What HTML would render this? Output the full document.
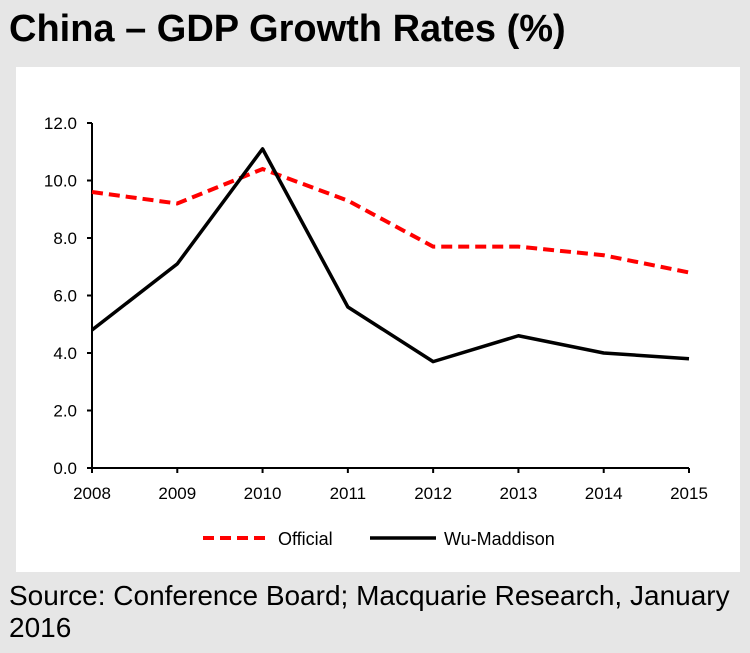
<!DOCTYPE html>
<html><head><meta charset="utf-8"><style>
body{margin:0;width:750px;height:653px;background:#e6e6e6;font-family:"Liberation Sans",Arial,sans-serif;overflow:hidden;position:relative}
#title{position:absolute;left:9px;top:8px;font-size:38px;font-weight:bold;color:#000;margin:0;white-space:nowrap}
#panel{position:absolute;left:16px;top:67px;width:724px;height:505px;background:#fff}
#source{position:absolute;left:9px;top:580px;font-size:28px;line-height:32px;color:#000;width:735px}
</style></head><body>
<h1 id="title">China – GDP Growth Rates (%)</h1>
<div id="panel"></div>
<svg id="chart" width="750" height="653" style="position:absolute;left:0;top:0"></svg>
<div id="source">Source: Conference Board; Macquarie Research, January 2016</div>
<script>
const categories=["2008","2009","2010","2011","2012","2013","2014","2015"];
const officialValues=[9.6,9.2,10.4,9.3,7.7,7.7,7.4,6.8];
const wuMaddisonValues=[4.8,7.1,11.1,5.6,3.7,4.6,4.0,3.8];
const yTicks=[0,2,4,6,8,10,12];
const NS="http://www.w3.org/2000/svg";
const svg=document.getElementById('chart');
const x0=92,x1=689,y0=468,y1=123,yMax=12;
function xs(i){return x0+(x1-x0)*i/(categories.length-1);}
function ys(v){return y0-(y0-y1)*v/yMax;}
function mk(t,a){const e=document.createElementNS(NS,t);for(const k in a)e.setAttribute(k,a[k]);svg.appendChild(e);return e;}
let e=mk('line',{x1:x0,y1:y0,x2:x0,y2:y1,stroke:'#000','stroke-width':2});

e=mk('line',{x1:x0,y1:y0,x2:x1,y2:y0,stroke:'#000','stroke-width':2});

yTicks.forEach(v=>{
 let t=mk('line',{x1:x0-5,y1:ys(v),x2:x0,y2:ys(v),stroke:'#000','stroke-width':2});
 
 let l=mk('text',{x:x0-15,y:ys(v)+6,'text-anchor':'end','font-size':17,'font-family':'Liberation Sans,sans-serif'});
 l.textContent=v.toFixed(1);
 
});
categories.forEach((c,i)=>{
 let t=mk('line',{x1:xs(i),y1:y0,x2:xs(i),y2:y0+5,stroke:'#000','stroke-width':2});
 
 let l=mk('text',{x:xs(i),y:y0+31,'text-anchor':'middle','font-size':17,'font-family':'Liberation Sans,sans-serif'});
 l.textContent=c;
 
});
function pts(vals){return vals.map((v,i)=>xs(i)+','+ys(v)).join(' ');}
e=mk('polyline',{points:pts(officialValues),fill:'none',stroke:'#ff0000','stroke-width':4,'stroke-dasharray':'11,6'});

e=mk('polyline',{points:pts(wuMaddisonValues),fill:'none',stroke:'#000','stroke-width':3.5,'stroke-linejoin':'round'});

e=mk('line',{x1:203,y1:538,x2:270,y2:538,stroke:'#ff0000','stroke-width':4,'stroke-dasharray':'11,6'});

e=mk('text',{x:278,y:545,'font-size':18,'font-family':'Liberation Sans,sans-serif'});e.textContent='Official';

e=mk('line',{x1:370,y1:538,x2:436,y2:538,stroke:'#000','stroke-width':3.5});

e=mk('text',{x:444,y:545,'font-size':18,'font-family':'Liberation Sans,sans-serif'});e.textContent='Wu-Maddison';

</script>
</body></html>
